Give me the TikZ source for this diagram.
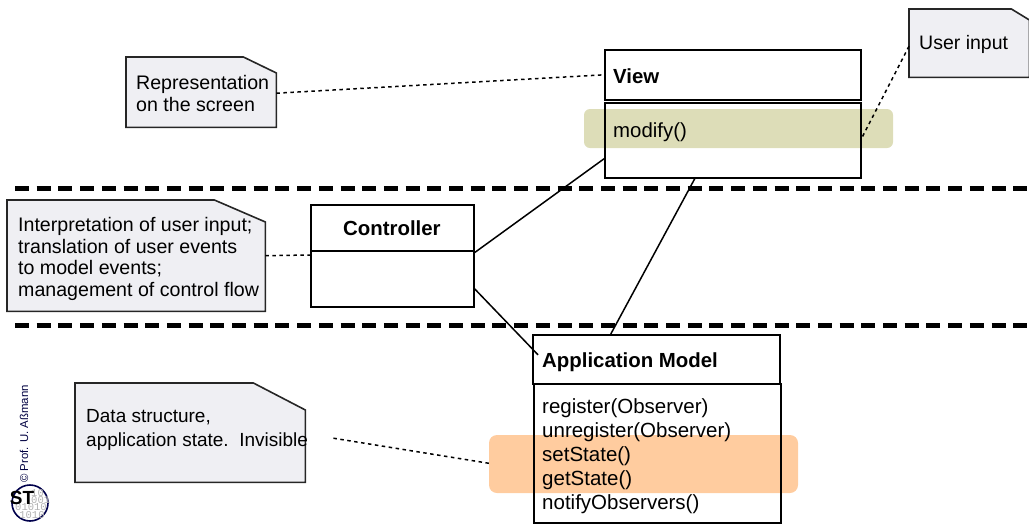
\documentclass[tikz,border=0pt]{standalone}
\usepackage{fontspec}
\setmainfont{Liberation Sans}
\setmonofont{Liberation Mono}
\usetikzlibrary{calc}
\definecolor{notefill}{HTML}{EFEFF3}
\definecolor{oliveband}{HTML}{DDDDB8}
\definecolor{orangeband}{HTML}{FFCC9F}
\tikzset{
  x=1pt,y=-1pt,
  txt/.style={font=\fontsize{20.4}{24}\selectfont,align=left,inner sep=0pt},
  classbox/.style={draw=black,line width=1.6pt,inner sep=0pt,anchor=north west},
  notebase/.style={inner sep=0pt,anchor=north west},
  noteshape/.style={draw=black!85,fill=notefill,line width=1.6pt,line join=miter},
  link/.style={draw=black,line width=1.5pt},
  dotlink/.style={draw=black,line width=1.5pt,dash pattern=on 3.5pt off 3.5pt},
  separator/.style={draw=black,line width=5pt,dash pattern=on 14pt off 7.7pt},
  band/.style={inner sep=0pt},
  digit/.style={inner sep=0pt,font=\fontsize{10.5}{10.5}\selectfont\ttfamily,text=black!30},
}
\newcommand{\notepoly}[3]{\draw[noteshape] (#1.south west) -- (#1.north west) -- ([xshift=-#2 pt]#1.north east) -- ([yshift=-#3 pt]#1.north east) -- (#1.south east) -- cycle;}
\begin{document}
\begin{tikzpicture}
\useasboundingbox (0,0) rectangle (1029,523);
% bands
\fill[oliveband,band,rounded corners=6pt] (584,109) rectangle (893,148);
\fill[orangeband,band,rounded corners=8pt] (489,435) rectangle (798,493);
% separators
\coordinate (sepAl) at (15,188); \coordinate (sepAr) at (1029,188);
\coordinate (sepBl) at (15,325); \coordinate (sepBr) at (1029,325);
\draw[separator] (sepAl) -- (sepAr);
\draw[separator] (sepBl) -- (sepBr);
% class boxes
\node[classbox,minimum width=256pt,minimum height=50pt] (viewtitle) at (604,49) {};
\node[classbox,minimum width=256pt,minimum height=75pt] (viewbody) at (604,102) {};
\node[classbox,minimum width=163pt,minimum height=46pt] (ctltitle) at (310,204) {};
\node[classbox,minimum width=163pt,minimum height=56pt] (ctlbody) at (310,250) {};
\node[classbox,minimum width=247pt,minimum height=49pt] (amtitle) at (532,334) {};
\node[classbox,minimum width=247pt,minimum height=139pt] (ambody) at (533,383) {};
% notes
\node[notebase,minimum width=150pt,minimum height=70pt] (noterep) at (126,57) {};
\notepoly{noterep}{33}{16}
\node[notebase,minimum width=120pt,minimum height=68pt] (noteuser) at (909,9) {};
\notepoly{noteuser}{18}{11}
\node[notebase,minimum width=258pt,minimum height=111pt] (noteint) at (7,200) {};
\notepoly{noteint}{51}{22}
\node[notebase,minimum width=230pt,minimum height=99pt] (notedata) at (75,383) {};
\notepoly{notedata}{52}{27}
% connectors
\draw[link] ($(ctltitle.south east)+(0,1)$) -- ($(viewbody.west)+(0,18.5)$);
\draw[link] ($(viewbody.south)+(-38,0)$) -- ($(amtitle.north)+(-45.5,0)$);
\draw[link] ($(ctlbody.east)+(0,10)$) -- ($(amtitle.west)+(6,-4.5)$);
\draw[dotlink] ($(noterep.east)+(0,1)$) -- (viewtitle.west);
\draw[dotlink] ($(noteuser.west)+(0,3)$) -- ($(viewbody.east)+(0,-2)$);
\draw[dotlink] ($(noteint.east)+(0,0)$) -- ($(ctlbody.north west)+(0,5)$);
\draw[dotlink] ($(notedata.east)+(28,5.5)$) -- ($(ambody.west)+(-44,10)$);
% texts
\node[txt,anchor=base west] (tview) at (613,83) {\textbf{View}};
\node[txt,anchor=base west] (tmod) at (613,137) {modify()};
\node[txt,anchor=base west] (tctl) at (343,235) {\textbf{Controller}};
\node[txt,anchor=base west] (tam) at (542,367) {\textbf{Application Model}};
\node[txt,anchor=base west,font=\fontsize{19.5}{23}\selectfont] (tu) at (919,49) {User input};
\node[txt,anchor=north west,font=\fontsize{19.6}{22}\selectfont] (trep) at (136,75) {Representation\\on the screen};
\node[txt,anchor=north west,font=\fontsize{19.6}{21.7}\selectfont] (tint) at (18,217) {Interpretation of user input;\\translation of user events\\to model events;\\management of control flow};
\node[txt,anchor=north west,font=\fontsize{19}{24}\selectfont] (tdata) at (86,409) {Data structure,\\application state.\ \ Invisible};
\node[txt,anchor=north west,font=\fontsize{20.5}{24}\selectfont] (tops) at (542,398) {register(Observer)\\unregister(Observer)\\setState()\\getState()\\notifyObservers()};
% copyright
\node[rotate=90,anchor=west,inner sep=0pt,font=\fontsize{11.4}{14}\selectfont,text=black!75!blue] (copy) at (24,483) {© Prof. U. Aßmann};
% logo
\node[circle,draw=black!70!blue,line width=1.6pt,minimum size=36pt,inner sep=0pt,fill=white] (logo) at (30,503) {};
\node[digit,anchor=west] (d1) at (31,493) {10};
\node[digit,anchor=west] (d2) at (31,500) {001};
\node[digit] (d3) at (31,507) {01010};
\node[digit] (d4) at (32,515) {1010};
\node[inner sep=0pt,font=\bfseries\fontsize{19}{19}\selectfont] (st) at (22,498) {ST};
\end{tikzpicture}
\end{document}
